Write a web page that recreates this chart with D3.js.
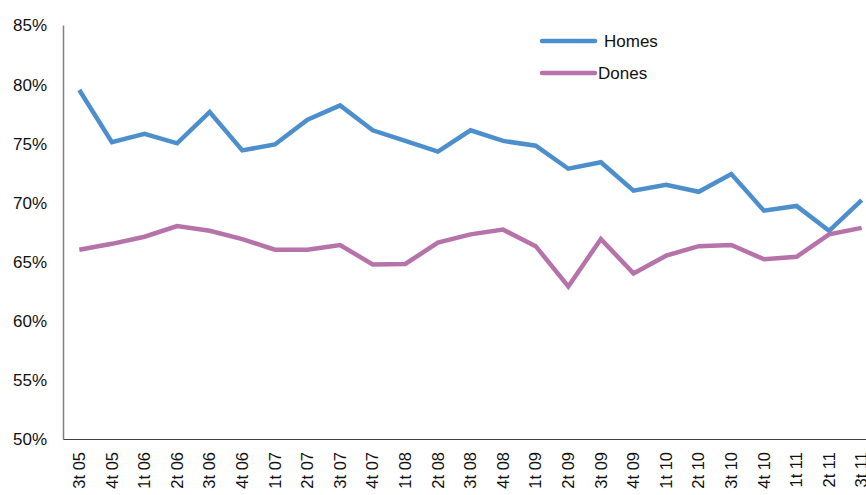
<!DOCTYPE html>
<html>
<head>
<meta charset="utf-8">
<script src="https://cdn.jsdelivr.net/npm/d3@7"></script>
<style>
    body { margin: 0; background: #fff; }
    #chart { width: 866px; height: 495px; overflow: hidden; }
    text { font-family: "Liberation Sans", Arial, sans-serif; fill: #111; }
</style>
</head>
<body>
<div id="chart"></div>
<script>
// Quarter labels along the x axis
const quarters = [
    "3t 05", "4t 05", "1t 06", "2t 06", "3t 06", "4t 06", "1t 07", "2t 07",
    "3t 07", "4t 07", "1t 08", "2t 08", "3t 08", "4t 08", "1t 09", "2t 09",
    "3t 09", "4t 09", "1t 10", "2t 10", "3t 10", "4t 10", "1t 11", "2t 11", "3t 11"
];

// Series values (percent)
const homes = [
    79.5, 75.1, 75.8, 75.0, 77.65, 74.4, 74.9, 77.0, 78.2, 76.1, 75.2, 74.3,
    76.1, 75.2, 74.8, 72.85, 73.4, 71.0, 71.5, 70.9, 72.4, 69.3, 69.7, 67.6, 70.2
];
const dones = [
    66.0, 66.5, 67.1, 68.0, 67.6, 66.9, 66.0, 66.0, 66.4, 64.75, 64.8, 66.6,
    67.3, 67.7, 66.3, 62.9, 66.9, 64.0, 65.5, 66.3, 66.4, 65.2, 65.4, 67.3, 67.85
];

// Y tick values
const yTicks = [50, 55, 60, 65, 70, 75, 80, 85];

const series = [
    {name: "Homes", values: homes, color: "#4d8fcc"},
    {name: "Dones", values: dones, color: "#b673a9"}
];

const totalWidth = 866;
const totalHeight = 495;
const margin = {top: 25, left: 63};
const bandStep = 32.6;
const width = bandStep * quarters.length;
const height = 414;

const svg = d3.select("#chart")
    .append("svg")
    .attr("width", totalWidth)
    .attr("height", totalHeight);

const g = svg.append("g")
    .attr("transform", `translate(${margin.left},${margin.top})`);

const x = d3.scaleBand()
    .domain(quarters)
    .range([0, width])
    .padding(0);

const y = d3.scaleLinear()
    .domain([50, 85])
    .range([height, 0]);

// Y axis: gray line, no ticks, labels on the left
const yAxis = g.append("g")
    .call(d3.axisLeft(y).tickValues(yTicks).tickSize(0).tickPadding(16).tickFormat(d => d + "%"));
yAxis.select(".domain").attr("stroke", "#808080").attr("stroke-width", 1.5);
yAxis.selectAll("text")
    .style("font-size", "17px")
    .attr("dy", "0.35em");

// X axis: bottom line, rotated labels
const xAxis = g.append("g")
    .attr("transform", `translate(0,${height})`)
    .call(d3.axisBottom(x).tickSize(0).tickPadding(0));
xAxis.select(".domain").attr("stroke", "#404040").attr("stroke-width", 1.2);
xAxis.selectAll("text")
    .style("font-size", "16.5px")
    .attr("text-anchor", "end")
    .attr("transform", "translate(0,13) rotate(-90)")
    .attr("x", 0)
    .attr("y", 0)
    .attr("dy", "0.35em");

// Lines
const line = d3.line()
    .x((d, i) => x(quarters[i]) + x.bandwidth() / 2)
    .y(d => y(d));

series.forEach(s => {
    g.append("path")
        .datum(s.values)
        .attr("fill", "none")
        .attr("stroke", s.color)
        .attr("stroke-width", 4.5)
        .attr("stroke-linejoin", "miter")
        .attr("d", line);
});

// Legend
const legend = svg.append("g");
const legendItems = [
    {s: series[0], y: 41, textX: 604},
    {s: series[1], y: 73, textX: 598}
];
legendItems.forEach(item => {
    legend.append("line")
        .attr("x1", 542)
        .attr("x2", 595)
        .attr("y1", item.y)
        .attr("y2", item.y)
        .attr("stroke", item.s.color)
        .attr("stroke-width", 4.5)
        .attr("stroke-linecap", "round");
    legend.append("text")
        .attr("x", item.textX)
        .attr("y", item.y)
        .attr("dy", "0.35em")
        .style("font-size", "17px")
        .text(item.s.name);
});
</script>
</body>
</html>
